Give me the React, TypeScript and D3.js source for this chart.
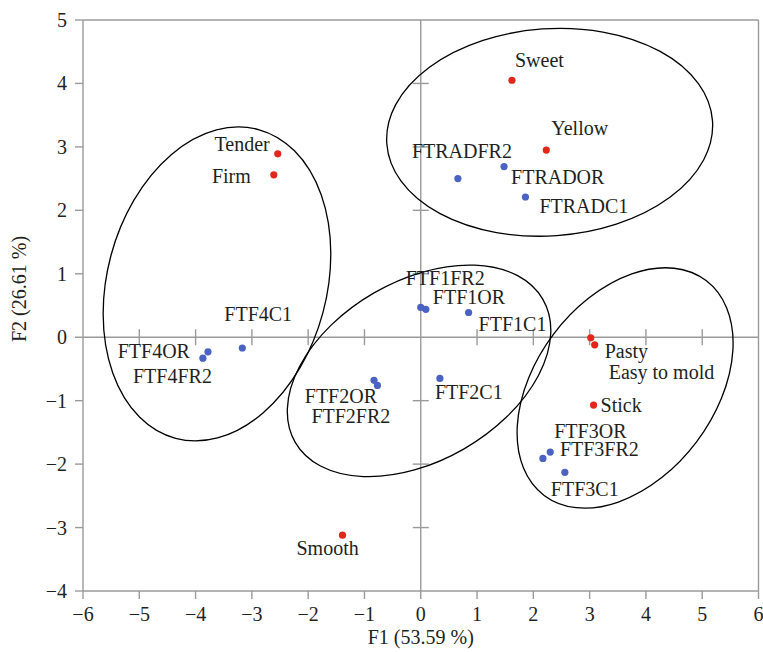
import React from "react";
import * as d3 from "d3";

// sensory attributes (red) and samples (blue)
const attributeNames = ["Sweet", "Yellow", "Tender", "Firm", "Pasty", "Easy to mold", "Stick", "Smooth"];
const attributeF1 = [1.62, 2.23, -2.54, -2.61, 3.02, 3.09, 3.07, -1.39];
const attributeF2 = [4.05, 2.95, 2.89, 2.56, -0.01, -0.12, -1.07, -3.12];

const sampleNames = [
  "FTRADFR2", "FTRADOR", "FTRADC1",
  "FTF1FR2", "FTF1OR", "FTF1C1",
  "FTF2C1", "FTF2OR", "FTF2FR2",
  "FTF3OR", "FTF3FR2", "FTF3C1",
  "FTF4C1", "FTF4OR", "FTF4FR2",
];
const sampleF1 = [0.66, 1.48, 1.86, 0.0, 0.09, 0.85, 0.34, -0.83, -0.77, 2.3, 2.17, 2.56, -3.17, -3.78, -3.87];
const sampleF2 = [2.5, 2.69, 2.21, 0.47, 0.44, 0.39, -0.65, -0.68, -0.76, -1.81, -1.91, -2.13, -0.17, -0.23, -0.33];

const xTicks = [-6, -5, -4, -3, -2, -1, 0, 1, 2, 3, 4, 5, 6];
const yTicks = [-4, -3, -2, -1, 0, 1, 2, 3, 4, 5];

// group ellipses: centre (F1, F2), semi-axes in F1 units, rotation in degrees
const groupCx = [2.29, -3.62, -0.03, 3.63];
const groupCy = [3.23, 0.84, -0.53, -0.8];
const groupRx = [2.9, 1.95, 2.54, 2.39];
const groupRy = [1.84, 2.84, 1.6, 1.59];
const groupAngle = [-4, 15, -30, -53];

// label placement (px offset from the dot)
const labelPos: Record<string, [number, number, string]> = {
  Sweet: [3, -13, "start"],
  Yellow: [5, -15, "start"],
  Tender: [-8, -3, "end"],
  Firm: [-23, 8, "end"],
  Pasty: [14, 20, "start"],
  "Easy to mold": [14, 34, "start"],
  Stick: [7, 7, "start"],
  Smooth: [-46, 20, "start"],
  FTRADFR2: [-46, -21, "start"],
  FTRADOR: [7, 17, "start"],
  FTRADC1: [14, 16, "start"],
  FTF1FR2: [-15, -22, "start"],
  FTF1OR: [7, -5, "start"],
  FTF1C1: [10, 19, "start"],
  FTF2C1: [-5, 21, "start"],
  FTF2OR: [3, 23, "end"],
  FTF2FR2: [-66, 38, "start"],
  FTF3OR: [4, -14, "start"],
  FTF3FR2: [17, -2, "start"],
  FTF3C1: [-14, 24, "start"],
  FTF4C1: [-18, -27, "start"],
  FTF4OR: [-18, 6, "end"],
  FTF4FR2: [9, 25, "end"],
};

const W = 763;
const H = 652;
const margin = { top: 20, right: 4.5, bottom: 61, left: 83 };
const font = "'Liberation Serif', 'Times New Roman', serif";
const axisColor = "#9a9a9a";
const textColor = "#231f20";

export default function App() {
  const x = d3.scaleLinear().domain([-6, 6]).range([margin.left, W - margin.right]);
  const y = d3.scaleLinear().domain([-4, 5]).range([H - margin.bottom, margin.top]);
  const fmt = d3.format("d");
  const unit = x(1) - x(0);

  const attrs = attributeNames.map((n, i) => ({ name: n, f1: attributeF1[i], f2: attributeF2[i] }));
  const samples = sampleNames.map((n, i) => ({ name: n, f1: sampleF1[i], f2: sampleF2[i] }));

  const left = x(-6), right = x(6), top = y(5), bottom = y(-4);

  const label = (d: { name: string; f1: number; f2: number }) => {
    const [dx, dy, anchor] = labelPos[d.name];
    return (
      <text key={"t" + d.name} x={x(d.f1) + dx} y={y(d.f2) + dy} textAnchor={anchor}
        fontSize={20} fill={textColor}>{d.name}</text>
    );
  };

  return (
    <svg width={W} height={H} style={{ position: "absolute", left: 0, top: 0 }} fontFamily={font}>
      <rect width={W} height={H} fill="#fff" />

      {/* frame */}
      <g stroke={axisColor} strokeWidth={1.4} fill="none">
        <line x1={left} x2={right} y1={top} y2={top} />
        <line x1={right} x2={right} y1={top} y2={bottom} />
        <line x1={left} x2={left} y1={top} y2={bottom} />
        <line x1={left} x2={right} y1={bottom} y2={bottom} />
        {/* zero lines */}
        <line x1={left} x2={right} y1={y(0)} y2={y(0)} />
        <line x1={x(0)} x2={x(0)} y1={top} y2={bottom} />
        {xTicks.map((t) => (
          <line key={"bx" + t} x1={x(t)} x2={x(t)} y1={bottom} y2={bottom + 8} />
        ))}
        {yTicks.map((t) => (
          <line key={"ly" + t} x1={left - 8} x2={left} y1={y(t)} y2={y(t)} />
        ))}
        {xTicks.filter((t) => t > -6 && t < 6 && t !== 0).map((t) => (
          <line key={"cx" + t} x1={x(t)} x2={x(t)} y1={y(0) - 8} y2={y(0) + 8} />
        ))}
        {yTicks.filter((t) => t > -4 && t < 5 && t !== 0).map((t) => (
          <line key={"cy" + t} x1={x(0) - 8} x2={x(0) + 8} y1={y(t)} y2={y(t)} />
        ))}
      </g>

      {/* tick labels */}
      {xTicks.map((t) => (
        <text key={"xl" + t} x={x(t)} y={bottom + 30} textAnchor="middle" fontSize={20} fill={textColor}>
          {fmt(t)}
        </text>
      ))}
      {yTicks.map((t) => (
        <text key={"yl" + t} x={left - 16} y={y(t)} dy="0.35em" textAnchor="end" fontSize={20} fill={textColor}>
          {fmt(t)}
        </text>
      ))}

      {/* axis titles */}
      <text x={(left + right) / 2} y={644} textAnchor="middle" fontSize={20} fill={textColor}>
        F1 (53.59 %)
      </text>
      <text transform={`translate(26, 289) rotate(-90)`} textAnchor="middle" fontSize={20} fill={textColor}>
        F2 (26.61 %)
      </text>

      {/* group ellipses */}
      <g fill="none" stroke="#000" strokeWidth={1.3}>
        {groupCx.map((c, i) => (
          <ellipse key={"e" + i} cx={0} cy={0} rx={groupRx[i] * unit} ry={groupRy[i] * unit}
            transform={`translate(${x(c)},${y(groupCy[i])}) rotate(${groupAngle[i]})`} />
        ))}
      </g>

      {/* points */}
      {samples.map((d) => (
        <circle key={"s" + d.name} cx={x(d.f1)} cy={y(d.f2)} r={3.6} fill="#4a62c2" />
      ))}
      {attrs.map((d) => (
        <circle key={"a" + d.name} cx={x(d.f1)} cy={y(d.f2)} r={3.6} fill="#e2261c" />
      ))}
      {samples.map(label)}
      {attrs.map(label)}
    </svg>
  );
}
